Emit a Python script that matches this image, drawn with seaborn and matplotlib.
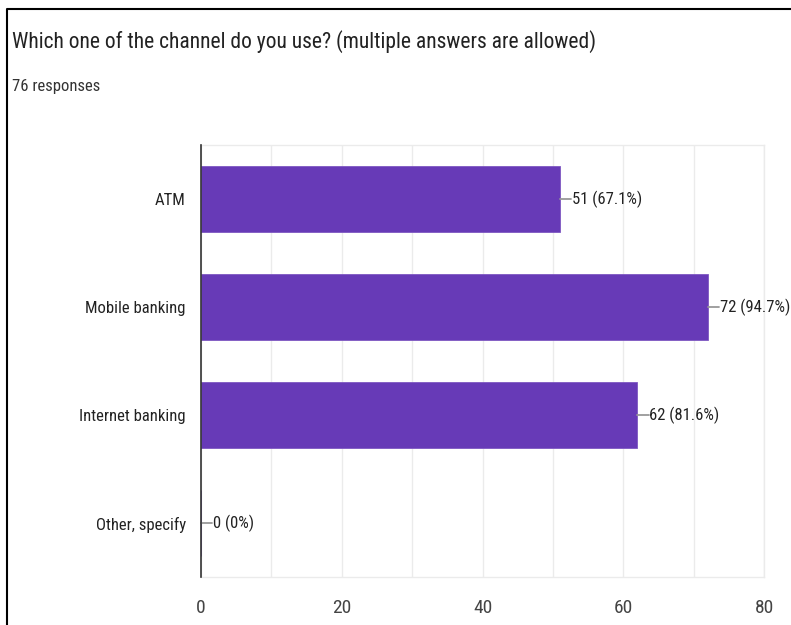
import matplotlib
matplotlib.use("Agg")
import matplotlib.pyplot as plt
import seaborn as sns
import pandas as pd
from matplotlib import font_manager
from matplotlib.lines import Line2D

categories = ["ATM", "Mobile banking", "Internet banking", "Other, specify"]
counts = [51, 72, 62, 0]
percents = ["67.1%", "94.7%", "81.6%", "0%"]
xticks = [0, 20, 40, 60, 80]
title = "Which one of the channel do you use? (multiple answers are allowed)"
subtitle = "76 responses"

sns.set_theme(style="white")
names = {f.name for f in font_manager.fontManager.ttflist}
fam = None
for cand in ["Roboto Condensed", "Liberation Sans Narrow", "DejaVu Sans Condensed", "Roboto"]:
    if cand in names:
        fam = cand
        break
if fam is None:
    fam = "DejaVu Sans"
plt.rcParams["font.family"] = [fam, "DejaVu Sans"]

df = pd.DataFrame({"channel": categories, "count": counts})

fig = plt.figure(figsize=(7.91, 6.25), dpi=100)
ax = fig.add_axes([201/791, 1-577/625, (764-201)/791, (577-145)/625])

sns.barplot(data=df, y="channel", x="count", orient="h", color="#673AB7",
            saturation=1, width=0.61, edgecolor="#7E57C2", linewidth=0.6, ax=ax, zorder=3)

ax.set_xlim(0, 80)
ax.set_ylim(3.5, -0.5)
ax.set_xticks(xticks)
ax.set_xticks(range(10, 80, 20), minor=True)
ax.grid(axis="x", which="both", color="#EBEBEB", linewidth=1, zorder=0)
ax.set_xlabel("")
ax.set_ylabel("")
ax.tick_params(axis="x", which="both", length=0, pad=16, labelsize=14, labelcolor="#444444")
ax.tick_params(axis="y", length=0, pad=11, labelsize=12, labelcolor="#222222")
for s in ["top", "bottom", "right"]:
    ax.spines[s].set_color("#EBEBEB")
    ax.spines[s].set_linewidth(1)
ax.spines["left"].set_color("#333333")
ax.spines["left"].set_linewidth(1.2)
ax.spines["left"].set_zorder(5)

for i, (c, p) in enumerate(zip(counts, percents)):
    ax.plot([c, c + 1.6], [i, i], color="#999999", linewidth=1.3, zorder=4, clip_on=False)
    ax.text(c + 1.7, i, f"{c} ({p})", va="center", ha="left", fontsize=12,
            color="#222222", zorder=4, clip_on=False)

fig.text(12/791, 1-42/625, title, fontsize=15.5, color="#222222", va="center", ha="left")
fig.text(12/791, 1-87/625, subtitle, fontsize=12, color="#333333", va="center", ha="left")

fig.add_artist(Line2D([7/791, 7/791, 1], [0, 1-9/625, 1-9/625], transform=fig.transFigure,
                      color="black", linewidth=1.5))

fig.savefig("out.png", dpi=100)
